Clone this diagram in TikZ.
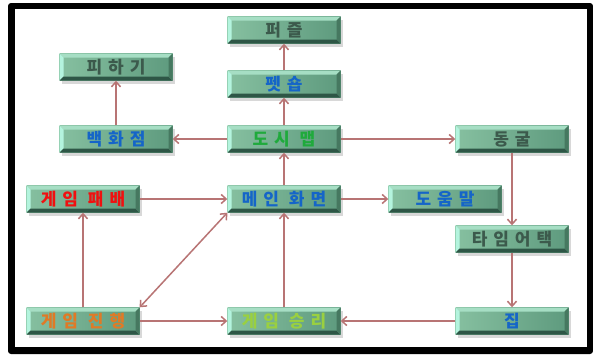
\documentclass[tikz,border=0pt]{standalone}
\usepackage{fontspec}
\newfontfamily\kr[LetterSpace=35]{Noto Sans CJK KR}
\usetikzlibrary{shadows,arrows.meta}
\definecolor{fillL}{HTML}{86C0A0}
\definecolor{fillR}{HTML}{5E9A7E}
\definecolor{bevtop}{HTML}{A6DEC4}
\definecolor{bevleft}{HTML}{B4F4DE}
\definecolor{bevbot}{HTML}{2E5646}
\definecolor{bevright}{HTML}{467860}
\definecolor{linkc}{HTML}{B87474}
\definecolor{tgray}{HTML}{3C5A4C}
\definecolor{tblue}{HTML}{1565C8}
\definecolor{tgreen}{HTML}{1FAA3C}
\definecolor{tred}{HTML}{F01010}
\definecolor{torange}{HTML}{E07A26}
\definecolor{tlgreen}{HTML}{9AD040}
\tikzset{
  bev/.style={minimum width=113pt, minimum height=27pt, inner sep=0pt,
    font=\kr\bfseries\fontsize{17}{17}\selectfont,
    left color=fillL, right color=fillR,
    drop shadow={shadow xshift=2pt, shadow yshift=-3pt, opacity=0.3, fill=gray},
    path picture={
      \path (path picture bounding box.north west) coordinate (pNW)
            (path picture bounding box.north east) coordinate (pNE)
            (path picture bounding box.south west) coordinate (pSW)
            (path picture bounding box.south east) coordinate (pSE);
      \fill[bevtop] (pNW) -- (pNE) -- ([xshift=-4pt,yshift=-4pt]pNE) -- ([xshift=4pt,yshift=-4pt]pNW) -- cycle;
      \fill[bevleft] (pNW) -- ([xshift=4pt,yshift=-4pt]pNW) -- ([xshift=4pt,yshift=4pt]pSW) -- (pSW) -- cycle;
      \fill[bevbot] (pSW) -- ([xshift=4pt,yshift=4pt]pSW) -- ([xshift=-4pt,yshift=4pt]pSE) -- (pSE) -- cycle;
      \fill[bevright] (pSE) -- ([xshift=-4pt,yshift=4pt]pSE) -- ([xshift=-4pt,yshift=-4pt]pNE) -- (pNE) -- cycle;
    }},
  link/.style={draw=linkc, line width=1.5pt, -{Straight Barb[length=5pt,width=9pt]}}
}
\begin{document}
\begin{tikzpicture}[x=1pt,y=-1pt]
\useasboundingbox (0,0) rectangle (593,354);
\fill[white] (0,0) rectangle (593,354);
\fill[black, rounded corners=3pt] (8,3) rectangle (593,354);
\fill[white] (15,9) rectangle (587,347);

\node[bev, text=tgray]   (puzzle) at (284,30)  {퍼즐};
\node[bev, text=tblue]   (pet)    at (284,84)  {펫숍};
\node[bev, text=tgray]   (avoid)  at (116,67)  {피하기};
\node[bev, text=tblue]   (dept)   at (116,139) {백화점};
\node[bev, text=tgreen]  (city)   at (284,139) {도시 맵};
\node[bev, text=tgray]   (cave)   at (512,139) {동굴};
\node[bev, text=tred]    (lose)   at (83,199)  {게임 패배};
\node[bev, text=tblue]   (main)   at (284,199) {메인 화면};
\node[bev, text=tblue]   (help)   at (445,199) {도움말};
\node[bev, text=tgray]   (time)   at (512,239) {타임어택};
\node[bev, text=torange] (play)   at (83,321)  {게임 진행};
\node[bev, text=tlgreen] (win)    at (284,321) {게임 승리};
\node[bev, text=tblue]   (home)   at (512,321) {집};

\draw[link] (pet) -- (puzzle);
\draw[link] (city) -- (pet);
\draw[link] (city) -- (dept);
\draw[link] (dept) -- (avoid);
\draw[link] (city) -- (cave);
\draw[link] (main) -- (city);
\draw[link] (cave) -- (time);
\draw[link] (time) -- (home);
\draw[link] (home) -- (win);
\draw[link] (win) -- (main);
\draw[link] (play) -- (win);
\draw[link] (play) -- (lose);
\draw[link] (lose) -- (main);
\draw[link] (main) -- (help);
\draw[link, {Straight Barb[length=5pt,width=9pt]}-{Straight Barb[length=5pt,width=9pt]}] (main.south west) -- (play.north east);
\end{tikzpicture}
\end{document}
